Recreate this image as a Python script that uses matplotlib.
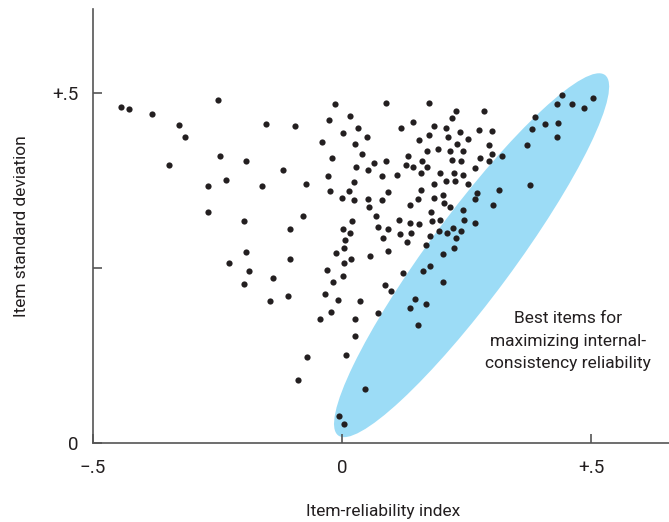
import matplotlib
matplotlib.use('Agg')
import matplotlib.pyplot as plt
from matplotlib.patches import Ellipse
from matplotlib.transforms import ScaledTranslation

plt.rcParams.update({'font.size': 13})
plt.rcParams['font.family'] = ['Roboto', 'DejaVu Sans']

# item-reliability index (x) and item standard deviation (y), one entry per item
item_reliability = [
    -0.443, -0.427, -0.381, -0.248, -0.326, -0.315, -0.152, -0.094, -0.244, -0.192,
    -0.346, -0.118, -0.269, -0.233, -0.160, -0.269, -0.197, -0.104, -0.192, -0.227,
    -0.187, -0.104, -0.138, -0.196, -0.108, -0.145, -0.070, -0.089,
    -0.014, 0.089, 0.175, 0.229, 0.285, -0.027, 0.016, 0.221, 0.142, 0.119,
    0.185, 0.209, 0.033, 0.003, 0.237, 0.274, 0.300, 0.175, 0.050, 0.213,
    0.154, 0.252, -0.040, 0.027, 0.231, 0.295, 0.192, 0.171, 0.216, 0.243,
    0.300, 0.321, 0.040, 0.132, -0.019, 0.065, 0.089, 0.160, 0.220, 0.239,
    0.276, 0.295, 0.128, 0.143, 0.171, 0.029, 0.052, 0.267, -0.029, 0.080,
    0.110, 0.158, 0.196, 0.225, 0.243, -0.072, 0.025, 0.185, 0.209, 0.227,
    0.252, -0.025, 0.014, 0.093, 0.158, 0.203, 0.270, 0.315, 0.001, 0.025,
    0.052, 0.080, 0.152, 0.185, 0.267, 0.205, 0.136, 0.302, 0.055, 0.216,
    -0.078, 0.178, 0.243, 0.068, 0.020, 0.115, 0.136, 0.154, 0.181, 0.196,
    0.244, 0.267, 0.003, 0.072, 0.093, 0.016, 0.222, 0.117, 0.138, 0.194,
    0.211, 0.239, 0.007, 0.083, 0.176, 0.229, 0.005, 0.130, 0.168, 0.224,
    -0.012, 0.018, 0.056, 0.093, 0.203,
    0.441, 0.504, 0.431, 0.461, 0.485, 0.388, 0.407, 0.433, 0.382, 0.431,
    0.372, 0.377,
    0.005, 0.176, 0.162, -0.031, 0.003, -0.018, 0.122, 0.203, 0.087, 0.098,
    -0.035, -0.007, 0.037, 0.147, 0.168, 0.136, -0.021, 0.072, -0.044, 0.027,
    0.152, 0.027, 0.009, 0.046, -0.005, 0.005,
]
item_sd = [
    0.481, 0.478, 0.471, 0.490, 0.454, 0.437, 0.456, 0.453, 0.411, 0.403,
    0.397, 0.391, 0.368, 0.376, 0.368, 0.331, 0.318, 0.306, 0.273, 0.258,
    0.246, 0.263, 0.236, 0.228, 0.211, 0.203, 0.123, 0.090,
    0.485, 0.486, 0.486, 0.475, 0.475, 0.462, 0.468, 0.465, 0.459, 0.451,
    0.453, 0.450, 0.450, 0.443, 0.445, 0.447, 0.446, 0.441, 0.437, 0.437,
    0.433, 0.434, 0.431, 0.427, 0.428, 0.426, 0.420, 0.418, 0.418, 0.417,
    0.414, 0.410, 0.413, 0.410, 0.407, 0.401, 0.403, 0.403, 0.405, 0.403,
    0.407, 0.403, 0.397, 0.395, 0.394, 0.394, 0.391, 0.393, 0.382, 0.382,
    0.383, 0.386, 0.386, 0.386, 0.383, 0.370, 0.373, 0.371, 0.374, 0.374,
    0.370, 0.361, 0.361, 0.359, 0.362, 0.355, 0.358, 0.362, 0.351, 0.347,
    0.349, 0.347, 0.349, 0.350, 0.349, 0.344, 0.340, 0.340, 0.337, 0.337,
    0.325, 0.331, 0.333, 0.325, 0.318, 0.319, 0.315, 0.313, 0.318, 0.319,
    0.319, 0.314, 0.306, 0.309, 0.306, 0.300, 0.308, 0.299, 0.301, 0.303,
    0.300, 0.303, 0.291, 0.294, 0.296, 0.294, 0.279, 0.287, 0.284, 0.279,
    0.272, 0.264, 0.267, 0.274, 0.270,
    0.498, 0.493, 0.484, 0.485, 0.479, 0.466, 0.456, 0.458, 0.449, 0.437,
    0.426, 0.369,
    0.257, 0.253, 0.246, 0.247, 0.239, 0.230, 0.243, 0.231, 0.226, 0.217,
    0.213, 0.205, 0.203, 0.206, 0.199, 0.193, 0.187, 0.186, 0.177, 0.178,
    0.169, 0.153, 0.126, 0.077, 0.039, 0.028,
]
assert len(item_reliability) == len(item_sd)

x_ticks = [-0.5, 0, 0.5]
x_ticklabels = ['\u2212.5', '0', '+.5']
y_ticks = [0, 0.25, 0.5]
y_ticklabels = ['0', '', '+.5']

note = 'Best items for\nmaximizing internal-\nconsistency reliability'

ink = '#231f20'
axis_col = '#555555'
blue = '#9cdcf6'

fig = plt.figure(figsize=(6.69, 5.22), dpi=100)
ax = fig.add_axes([92.7 / 669, 78.7 / 522, 576.3 / 669, 434 / 522])

ax.set_xlim(-0.5, 0.656)
ax.set_ylim(0, 0.62)

# highlight ellipse, size given in inches, centred on a data point
trans = fig.dpi_scale_trans + ScaledTranslation(0.260, 0.2687, ax.transData)
ax.add_patch(Ellipse((0, 0), width=4.484, height=0.84, angle=53.5,
                     transform=trans, facecolor=blue, edgecolor='none', zorder=1))

ax.scatter(item_reliability, item_sd, s=20, c=ink, linewidths=0, zorder=3)

ax.text(0.453, 0.146, note, ha='center', va='center', color=ink,
        fontsize=12.5, linespacing=1.65, zorder=4)

for side in ['top', 'right']:
    ax.spines[side].set_visible(False)
for side in ['left', 'bottom']:
    ax.spines[side].set_color(axis_col)
    ax.spines[side].set_linewidth(1.2)

ax.set_xticks(x_ticks)
ax.set_xticklabels(x_ticklabels)
ax.set_yticks(y_ticks)
ax.set_yticklabels(y_ticklabels)
ax.tick_params(direction='in', length=6.5, width=1.2, color=axis_col,
               labelcolor=ink, labelsize=13.5)
ax.tick_params(axis='x', pad=11)
ax.tick_params(axis='y', pad=10)

ax.set_xlabel('Item-reliability index', color=ink, fontsize=12.5, va='center')
ax.xaxis.set_label_coords(0.504, -0.158)
ax.set_ylabel('Item standard deviation', color=ink, fontsize=12.5,
              va='center', ha='center')
ax.yaxis.set_label_coords(-0.1232, 0.5)

fig.savefig('out.png', dpi=100)
